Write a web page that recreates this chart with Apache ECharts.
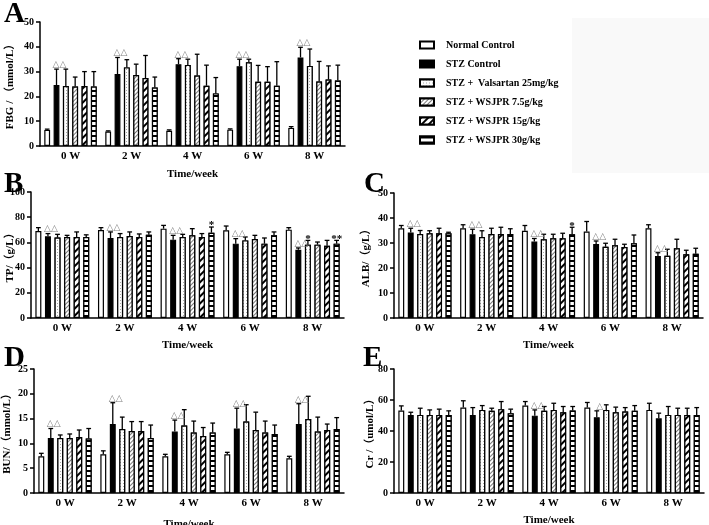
<!DOCTYPE html>
<html><head><meta charset="utf-8">
<script src="https://cdn.jsdelivr.net/npm/echarts@6/dist/echarts.min.js"></script>
<style>html,body{margin:0;padding:0;background:#fff}#c{width:709px;height:525px}</style>
</head><body><div id="c"></div>
<script>
const weeks = ['0 W','2 W','4 W','6 W','8 W'];
const groups = ['Normal Control','STZ Control','STZ +  Valsartan 25mg/kg','STZ + WSJPR 7.5g/kg','STZ + WSJPR 15g/kg','STZ + WSJPR 30g/kg'];

// rows = groups, columns = weeks
const fbgMean = [[6.5,5.8,6.1,6.6,7.3],[24.6,29.0,33.0,32.2,35.7],[24.2,31.7,32.7,33.8,32.3],[24.0,28.6,28.4,25.9,26.0],[24.2,27.4,24.3,25.9,26.8],[24.0,23.6,21.2,24.3,26.4]];
const fbgSd   = [[0.3,0.3,0.4,0.3,0.5],[6.4,6.7,2.2,2.8,4.1],[6.8,3.1,2.3,1.2,6.8],[3.8,4.4,8.6,6.6,8.1],[5.8,9.1,8.3,6.1,5.5],[6.0,4.2,6.4,9.7,6.2]];
const tpMean  = [[69.0,69.8,70.9,69.6,70.1],[64.8,63.5,62.2,59.0,54.2],[63.8,64.3,64.3,61.6,58.2],[64.3,65.0,65.6,62.7,58.2],[64.3,64.3,64.3,59.0,57.4],[64.3,66.1,67.7,65.6,59.0]];
const tpSd    = [[2.7,1.9,2.6,3.4,1.6],[2.2,4.8,3.4,4.0,1.4],[2.6,2.7,2.1,2.7,3.4],[1.3,3.3,5.3,2.9,2.1],[4.0,2.4,2.7,4.5,4.2],[1.7,2.2,4.5,2.7,2.6]];
const albMean = [[35.9,35.9,34.9,34.6,35.9],[34.2,33.5,30.6,29.6,24.8],[33.6,32.4,31.5,28.5,24.9],[33.9,33.6,31.9,29.1,27.9],[33.9,33.6,31.9,28.4,25.5],[33.9,33.6,33.5,29.9,25.7]];
const albSd   = [[1.1,1.4,2.1,4.0,1.4],[1.7,2.0,1.2,1.2,1.3],[1.4,2.5,2.0,1.4,2.6],[1.0,2.3,1.6,2.4,3.6],[2.0,2.7,2.0,1.1,1.6],[0.4,2.1,2.8,3.3,2.2]];
const bunMean = [[7.4,7.8,7.4,7.8,7.0],[11.1,13.9,12.4,13.0,13.9],[11.1,12.9,13.6,14.4,14.9],[11.1,12.5,12.2,12.7,12.4],[11.3,12.5,11.5,12.2,12.7],[11.0,11.1,12.2,11.9,12.9]];
const bunSd   = [[0.6,0.7,0.4,0.4,0.4],[1.9,4.3,2.3,4.1,4.1],[0.6,2.4,3.2,3.4,4.6],[0.8,1.9,2.3,3.6,2.9],[1.4,1.9,1.7,2.3,1.2],[2.0,2.6,1.9,1.8,2.3]];
const crMean  = [[53.2,55.1,56.4,55.1,53.6],[50.4,50.4,49.9,48.9,48.2],[50.4,53.6,53.0,53.6,50.4],[50.4,53.0,53.6,52.1,50.4],[50.4,54.1,52.1,52.5,50.4],[50.4,51.5,53.2,53.0,50.4]];
const crSd    = [[3.0,4.4,2.6,3.3,4.3],[1.7,4.7,3.7,4.1,3.3],[4.3,2.8,2.8,3.3,5.4],[3.2,1.7,4.3,3.3,4.3],[3.7,4.9,3.7,2.6,4.3],[2.6,2.6,2.6,3.4,4.7]];

// annotations: [weekIndex, groupIndex, text]
const fbgMarks = [[0,1,'△△'],[1,1,'△△'],[2,1,'△△'],[3,1,'△△'],[4,1,'△△']];
const tpMarks  = [[0,1,'△△'],[1,1,'△△'],[2,1,'△△'],[3,1,'△△'],[4,1,'△△'],[2,5,'*'],[4,2,'*'],[4,5,'**']];
const albMarks = [[0,1,'△△'],[1,1,'△△'],[2,1,'△△'],[3,1,'△△'],[4,1,'△△'],[2,5,'*']];
const bunMarks = [[0,1,'△△'],[1,1,'△△'],[2,1,'△△'],[3,1,'△△'],[4,1,'△△']];
const crMarks  = [[2,1,'△△'],[3,1,'△']];

const yMax = [50,100,50,25,80];
const yStep = [10,20,10,5,20];
const yNames = ['FBG / （mmol/L）','TP/（g/L）','ALB/（g/L）','BUN/（mmol/L）','Cr /（umol/L）'];
const letters = ['A','B','C','D','E'];

const panels = [
  {mean:fbgMean, sd:fbgSd, marks:fbgMarks, grid:{left:40,top:22,width:305,height:124}, nameGap:24, xNameGap:23, letter:[4,0]},
  {mean:tpMean, sd:tpSd, marks:tpMarks, grid:{left:31,top:192,width:313,height:126}, nameGap:15, xNameGap:22, letter:[4,170]},
  {mean:albMean, sd:albSd, marks:albMarks, grid:{left:394,top:193,width:309,height:125}, nameGap:22, xNameGap:22, letter:[364,170]},
  {mean:bunMean, sd:bunSd, marks:bunMarks, grid:{left:34,top:369,width:310,height:124}, nameGap:21, xNameGap:26, letter:[4,344]},
  {mean:crMean, sd:crSd, marks:crMarks, grid:{left:394,top:369,width:310,height:124}, nameGap:18, xNameGap:22, letter:[363,344]}
];

const CAT_GAP = 0.14, BAR_GAP = 0.6;
const SERIF = '"Liberation Serif","Times New Roman",serif';

const styles = [
  {color:'#fff'},
  {color:'#000'},
  {color:'#fff', decal:{symbol:'rect', symbolSize:1, dashArrayX:[1,1.5], dashArrayY:[1,1.5], color:'#a8a8a8', backgroundColor:'#fff', rotation:0}},
  {color:'#fff', decal:{symbol:'rect', symbolSize:1, dashArrayX:[1,0], dashArrayY:[1,1.6], color:'#7a7a7a', backgroundColor:'#fff', rotation:-Math.PI/4}},
  {color:'#fff', decal:{symbol:'rect', symbolSize:1, dashArrayX:[1,0], dashArrayY:[2,2.5], color:'#000', backgroundColor:'#fff', rotation:-Math.PI/4}},
  {color:'#fff', decal:{symbol:'rect', symbolSize:1, dashArrayX:[1,0], dashArrayY:[1.5,2.2], color:'#000', backgroundColor:'#fff', rotation:0}}
];

function barX(api, w, g) {
  const band = api.size([1, 0])[0];
  const R = band * (1 - CAT_GAP);
  const bw = R / (6 + 5 * BAR_GAP);
  return {x: api.coord([w, 0])[0] - R / 2 + bw / 2 + g * bw * (1 + BAR_GAP), bw: bw};
}

const grids = [], xAxes = [], yAxes = [], series = [], graphics = [];
graphics.push({type:'rect', shape:{x:572,y:18,width:137,height:155}, style:{fill:'#f9f9f9'}, z:-10, silent:true});

panels.forEach(function (p, i) {
  grids.push(Object.assign({containLabel:false, outerBoundsMode:'none'}, p.grid));
  xAxes.push({
    type:'category', gridIndex:i, data:weeks,
    axisLine:{lineStyle:{color:'#000', width:1.5}},
    axisTick:{show:false},
    axisLabel:{color:'#000', fontFamily:SERIF, fontWeight:'bold', fontSize:11, margin:5},
    name:'Time/week', nameLocation:'middle', nameGap:p.xNameGap, nameMoveOverlap:false,
    nameTextStyle:{color:'#000', fontFamily:SERIF, fontWeight:'bold', fontSize:11}
  });
  yAxes.push({
    type:'value', gridIndex:i, min:0, max:yMax[i], interval:yStep[i],
    axisLine:{show:true, lineStyle:{color:'#000', width:1.5}},
    axisTick:{show:true, length:4, lineStyle:{color:'#000', width:1.5}},
    splitLine:{show:false},
    axisLabel:{color:'#000', fontFamily:SERIF, fontWeight:'bold', fontSize:10, margin:6},
    name:yNames[i], nameLocation:'middle', nameGap:p.nameGap, nameMoveOverlap:false,
    nameTextStyle:{color:'#000', fontFamily:'"Liberation Serif","Noto Sans CJK SC",serif', fontWeight:'bold', fontSize:11}
  });
  groups.forEach(function (gName, g) {
    series.push({
      type:'bar', name:gName, xAxisIndex:i, yAxisIndex:i, data:p.mean[g],
      barGap:(BAR_GAP*100)+'%', barCategoryGap:(CAT_GAP*100)+'%',
      itemStyle:Object.assign({borderColor:'#000', borderWidth:1.2}, styles[g]),
      emphasis:{disabled:true}, animation:false
    });
  });
  const errData = [];
  groups.forEach(function (gName, g) {
    weeks.forEach(function (wk, w) {
      errData.push([w, g, p.mean[g][w], p.mean[g][w] + p.sd[g][w]]);
    });
  });
  series.push({
    type:'custom', xAxisIndex:i, yAxisIndex:i, data:errData, encode:{x:0, y:3}, z:3,
    animation:false, silent:true,
    renderItem:function (params, api) {
      const w = api.value(0), g = api.value(1);
      const b = barX(api, w, g);
      const yT = api.coord([w, api.value(3)])[1];
      const yM = api.coord([w, api.value(2)])[1];
      const cap = b.bw * 0.4;
      return {type:'group', children:[
        {type:'line', shape:{x1:b.x, y1:yM, x2:b.x, y2:yT}, style:{stroke:'#000', lineWidth:1.3}},
        {type:'line', shape:{x1:b.x - cap, y1:yT, x2:b.x + cap, y2:yT}, style:{stroke:'#000', lineWidth:1.3}}
      ]};
    }
  });
  const markData = p.marks.map(function (m) { return [m[0], p.mean[m[1]][m[0]] + p.sd[m[1]][m[0]], m[1]]; });
  const marks = p.marks;
  series.push({
    type:'custom', xAxisIndex:i, yAxisIndex:i, data:markData, encode:{x:0, y:1}, z:4,
    animation:false, silent:true,
    renderItem:function (params, api) {
      const w = api.value(0), g = api.value(2);
      const b = barX(api, w, g);
      const yT = api.coord([w, api.value(1)])[1];
      const txt = marks[params.dataIndex][2];
      const tri = txt.indexOf('△') >= 0;
      return {type:'text', x:b.x + (tri ? 3 : 0), y:yT + (tri ? 0 : 4), style:{
        text:txt, textAlign:'center', textVerticalAlign:'bottom',
        fill:tri ? '#808080' : '#000',
        font: tri ? '9px "DejaVu Sans"' : 'bold 11px ' + SERIF
      }};
    }
  });
  graphics.push({type:'text', left:p.letter[0], top:p.letter[1], style:{text:letters[i], font:'bold 29px ' + SERIF, fill:'#000'}});
});

const chart = echarts.init(document.getElementById('c'), null, {renderer:'canvas'});
chart.setOption({
  backgroundColor:'#fff',
  animation:false,
  grid:grids, xAxis:xAxes, yAxis:yAxes, series:series, graphic:graphics,
  legend:{
    data:groups, orient:'vertical', left:414, top:34, itemWidth:14, itemHeight:7, itemGap:7,
    icon:'rect', selectedMode:false,
    textStyle:{color:'#000', fontFamily:SERIF, fontWeight:'bold', fontSize:10, lineHeight:12, padding:[0,0,0,7]}
  }
});
</script></body></html>
